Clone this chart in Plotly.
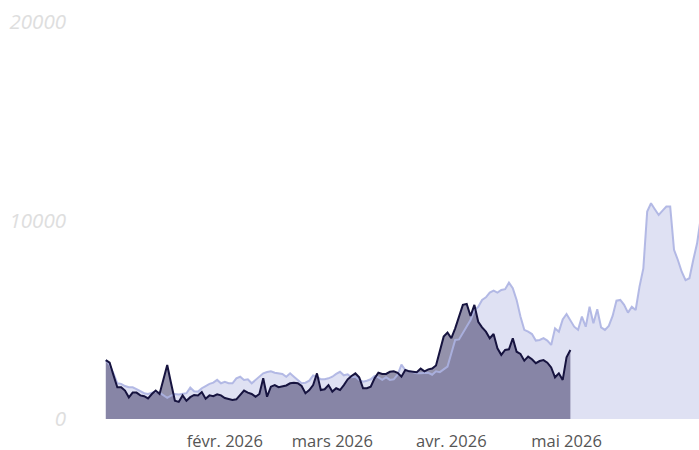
import pandas as pd
import plotly.graph_objects as go

start_date = "2026-01-01"

# Light series (reference / comparison period), daily values
light_values = [
    2970, 2720, 2300, 1800, 1770, 1660, 1600, 1600, 1500, 1380, 1300, 1260, 1330, 1380, 1330, 1210,
    1070, 1180, 1260, 1230, 1260, 1300, 1580, 1400, 1380, 1550, 1660, 1770, 1830, 1970, 1800, 1870, 1800,
    1800, 2050, 2130, 1970, 2000, 1800, 1970, 2130, 2300, 2370, 2400, 2330, 2300, 2270, 2130, 2300,
    2130, 1970, 1800, 1830, 1930, 2200, 2130, 2000, 2000, 2050, 2130, 2270, 2380, 2200,
    2250,
    2100, 2130, 1970, 1880, 1930, 2000, 2170, 2100, 1970, 2100, 1970, 2000, 2230, 2740, 2470, 2400,
    2330, 2300, 2300, 2330, 2330, 2230, 2400, 2360, 2500, 2640, 3310, 3980, 4010, 4320, 4650, 4990, 5490,
    5650,
    6000, 6130, 6370, 6470, 6370, 6500, 6540, 6870, 6590, 6000, 5160, 4490, 4400, 4280, 3950, 3980,
    4070, 3950, 3730, 4570, 4400, 5020, 5290, 5000, 4650, 4490,
    5160, 4650, 5660, 4820, 5530, 4620, 4490, 4690, 5190, 5960, 6000, 5750, 5360, 5660, 5490, 6670,
    7590, 10450, 10870, 10570, 10280, 10500, 10700, 10700, 8520, 8010, 7420, 7000, 7090, 8010, 8850, 10200,
]

# Dark series (current period), daily values
dark_values = [
    2970, 2840, 2200, 1600, 1600, 1430, 1090, 1330, 1330, 1190, 1150, 1040, 1260, 1430, 1260,
    2000, 2720, 1800, 920,
    860, 1190, 920, 1100, 1210, 1190, 1360, 1020, 1190, 1150, 1240, 1190, 1060, 1000,
    960, 990, 1200, 1430, 1330, 1260, 1120, 1260,
    2050, 1120, 1630, 1710, 1600, 1660, 1690, 1800, 1830, 1800, 1660, 1300, 1460, 1710, 2300, 1460,
    1500, 1710, 1380, 1550, 1460, 1710, 2000,
    2170, 2300, 2100, 1550, 1550, 1630, 2050, 2330, 2270, 2270, 2380, 2400, 2330, 2130, 2470, 2400,
    2380, 2360, 2540, 2400, 2500, 2540,
    2700, 3480, 4150, 4350, 4070, 4570, 5130, 5750, 5800, 5190, 5750, 4900,
    4620, 4400, 4070, 4280, 3560, 3230, 3480, 3510, 4070, 3390, 3280, 2940, 3140, 3010, 2810, 2920,
    2970, 2840, 2600, 2100, 2300, 1970, 3110, 3480,
]

tick_dates = ["2026-02-01", "2026-03-01", "2026-04-01", "2026-05-01"]
tick_labels = ["févr. 2026", "mars 2026", "avr. 2026", "mai 2026"]
y_ticks = [0, 10000, 20000]

light_dates = pd.date_range(start_date, periods=len(light_values), freq="D")
dark_dates = pd.date_range(start_date, periods=len(dark_values), freq="D")

fig = go.Figure()
# fills first
fig.add_trace(go.Scatter(x=light_dates, y=light_values, mode="lines", line=dict(width=0),
                         fill="tozeroy", fillcolor="#dfe1f3", hoverinfo="skip", showlegend=False))
fig.add_trace(go.Scatter(x=dark_dates, y=dark_values, mode="lines", line=dict(width=0),
                         fill="tozeroy", fillcolor="rgba(70,68,110,0.58)", hoverinfo="skip", showlegend=False))
# lines on top
fig.add_trace(go.Scatter(x=light_dates, y=light_values, mode="lines",
                         line=dict(color="rgba(172,178,226,0.9)", width=2), showlegend=False))
fig.add_trace(go.Scatter(x=dark_dates, y=dark_values, mode="lines",
                         line=dict(color="#16133f", width=2), showlegend=False))

fig.update_layout(
    width=699, height=450,
    margin=dict(l=105, r=0, t=22, b=31),
    paper_bgcolor="white", plot_bgcolor="white",
    showlegend=False,
)
fig.update_xaxes(
    range=["2025-12-31 19:00", "2026-06-04 12:00"],
    tickvals=pd.to_datetime(tick_dates), ticktext=tick_labels,
    showgrid=False, zeroline=False, showline=False, ticks="",
    tickfont=dict(family="Open Sans", size=16.5, color="#555555"),
    ticklabelstandoff=10, automargin=False, ticklabeloverflow="allow",
)
fig.update_yaxes(
    range=[0, 20000], tickvals=y_ticks, ticktext=[str(v) for v in y_ticks],
    showgrid=False, zeroline=False, showline=False, ticks="",
    tickfont=dict(family="Open Sans", size=20.5, color="#dedede", style="italic"),
    ticklabelstandoff=38, automargin=False, ticklabeloverflow="allow",
)

fig.write_html(
    "out.html",
    config={"displayModeBar": False},
    post_script="document.body.style.margin='0';document.documentElement.style.overflow='hidden';",
)
